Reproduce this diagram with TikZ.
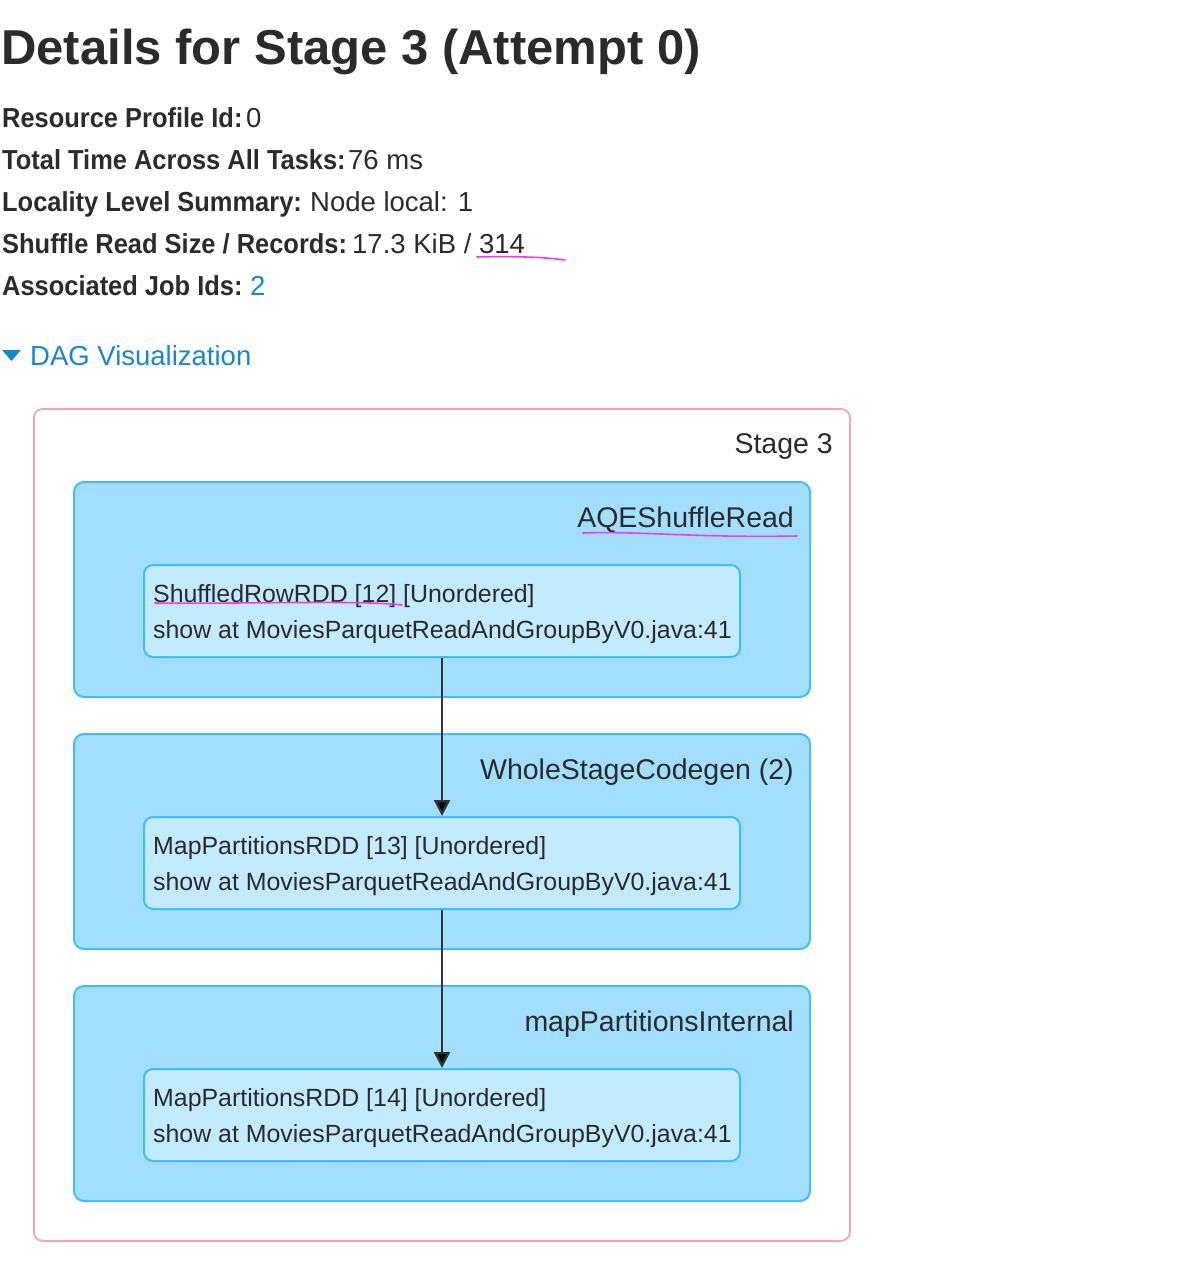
\documentclass[tikz,border=0pt]{standalone}
\usepackage{fontspec}
\setmainfont{Liberation Sans}
\newfontfamily\condfont{Liberation Sans}[FakeStretch=0.925]
\usetikzlibrary{arrows.meta}
\definecolor{txt}{HTML}{2B2B2B}
\definecolor{link}{HTML}{1787C8}
\definecolor{stageborder}{HTML}{F4A3B2}
\definecolor{clfill}{HTML}{A2DEFD}
\definecolor{clborder}{HTML}{42BDF7}
\definecolor{rddfill}{HTML}{C3EBFF}
\definecolor{pinkmark}{HTML}{EE3CEE}
\definecolor{arrowcol}{HTML}{333333}
\tikzset{
  hdr/.style={inner sep=0pt, anchor=base west, text=txt, font=\fontsize{27.5}{32}\selectfont},
  hdrkey/.style={inner sep=0pt, anchor=base west, text=txt, font=\fontsize{27.5}{32}\condfont\bfseries},
  titlestyle/.style={inner sep=0pt, anchor=base west, text=txt, font=\fontsize{49}{56}\selectfont\bfseries},
  lbl/.style={inner sep=0pt, anchor=base east, text=txt, font=\fontsize{28.5}{32}\selectfont},
  ntxt/.style={inner sep=0pt, anchor=base west, text=txt, font=\fontsize{24.9}{30}\selectfont},
  stagebox/.style={draw=stageborder, line width=1.8pt, fill=white, rounded corners=9pt, anchor=north west, inner sep=0pt},
  cluster/.style={draw=clborder, line width=2pt, fill=clfill, rounded corners=10pt, anchor=north west, inner sep=0pt, minimum width=736pt, minimum height=215pt},
  rddbox/.style={draw=clborder, line width=2pt, fill=rddfill, rounded corners=9pt, anchor=north west, inner sep=0pt, minimum width=596pt, minimum height=92pt},
  flow/.style={draw=arrowcol, line width=2.4pt, -{Triangle[width=16pt,length=16pt,fill=black]}},
  pinkline/.style={draw=pinkmark, line width=1.6pt, line cap=round}
}
\begin{document}
\begin{tikzpicture}[x=1pt,y=-1pt]
\useasboundingbox (0,0) rectangle (1186,1266);

% title and summary
\node[titlestyle] (title) at (1,64) {Details for Stage 3 (Attempt 0)};
\node[hdrkey] (k1) at (2,127) {Resource Profile Id:};
\node[hdr] (v1) at (246,127) {0};
\node[hdrkey] (k2) at (2,169) {Total Time Across All Tasks:};
\node[hdr] (v2) at (348,169) {76 ms};
\node[hdrkey] (k3) at (2,211) {Locality Level Summary:};
\node[hdr] (v3) at (310,211) {Node local: 1};
\node[hdrkey] (k4) at (2,253) {Shuffle Read Size / Records:};
\node[hdr] (v4) at (352,253) {17.3 KiB / 314};
\node[hdrkey] (k5) at (2,295) {Associated Job Ids:};
\node[hdr, text=link] (v5) at (250,295) {2};

% pink mark under 314
\coordinate (m1a) at (477,257);
\coordinate (m1b) at (565,260);
\draw[pinkline] (m1a) .. controls (510,256) and (545,257) .. (m1b);

% DAG visualization toggle
\fill[link] (2,350) -- (21,350) -- (11.5,361) -- cycle;
\node[hdr, text=link] (dag) at (30,365) {DAG Visualization};

% stage box
\node[stagebox, minimum width=816pt, minimum height=832pt] (stage) at (33,408) {};
\node[lbl] (stagelbl) at (833,453) {Stage 3};

% clusters
\node[cluster] (c1) at (73,481) {};
\node[cluster] (c2) at (73,733) {};
\node[cluster] (c3) at (73,985) {};
\node[lbl] (c1l) at (794,527) {AQEShuffleRead};
\node[lbl] (c2l) at (794,779) {WholeStageCodegen (2)};
\node[lbl] (c3l) at (794,1031) {mapPartitionsInternal};

% pink mark under AQEShuffleRead
\coordinate (m2a) at (583,533);
\coordinate (m2b) at (797,536);
\draw[pinkline] (m2a) .. controls (640,531) and (700,538) .. (m2b);

% rdd nodes
\node[rddbox] (r1) at (143,564) {};
\node[rddbox] (r2) at (143,816) {};
\node[rddbox] (r3) at (143,1068) {};

\node[ntxt] (r1a) at (153,602) {ShuffledRowRDD [12] [Unordered]};
\node[ntxt] (r1b) at (153,638) {show at MoviesParquetReadAndGroupByV0.java:41};
\node[ntxt] (r2a) at (153,854) {MapPartitionsRDD [13] [Unordered]};
\node[ntxt] (r2b) at (153,890) {show at MoviesParquetReadAndGroupByV0.java:41};
\node[ntxt] (r3a) at (153,1106) {MapPartitionsRDD [14] [Unordered]};
\node[ntxt] (r3b) at (153,1142) {show at MoviesParquetReadAndGroupByV0.java:41};

% pink mark under ShuffledRowRDD [12]
\coordinate (m3a) at (155,603);
\coordinate (m3b) at (402,605);
\draw[pinkline] (m3a) .. controls (250,604) and (360,600) .. (m3b);

% edges
\draw[flow] (r1.south) -- (r2.north);
\draw[flow] (r2.south) -- (r3.north);
\end{tikzpicture}
\end{document}
